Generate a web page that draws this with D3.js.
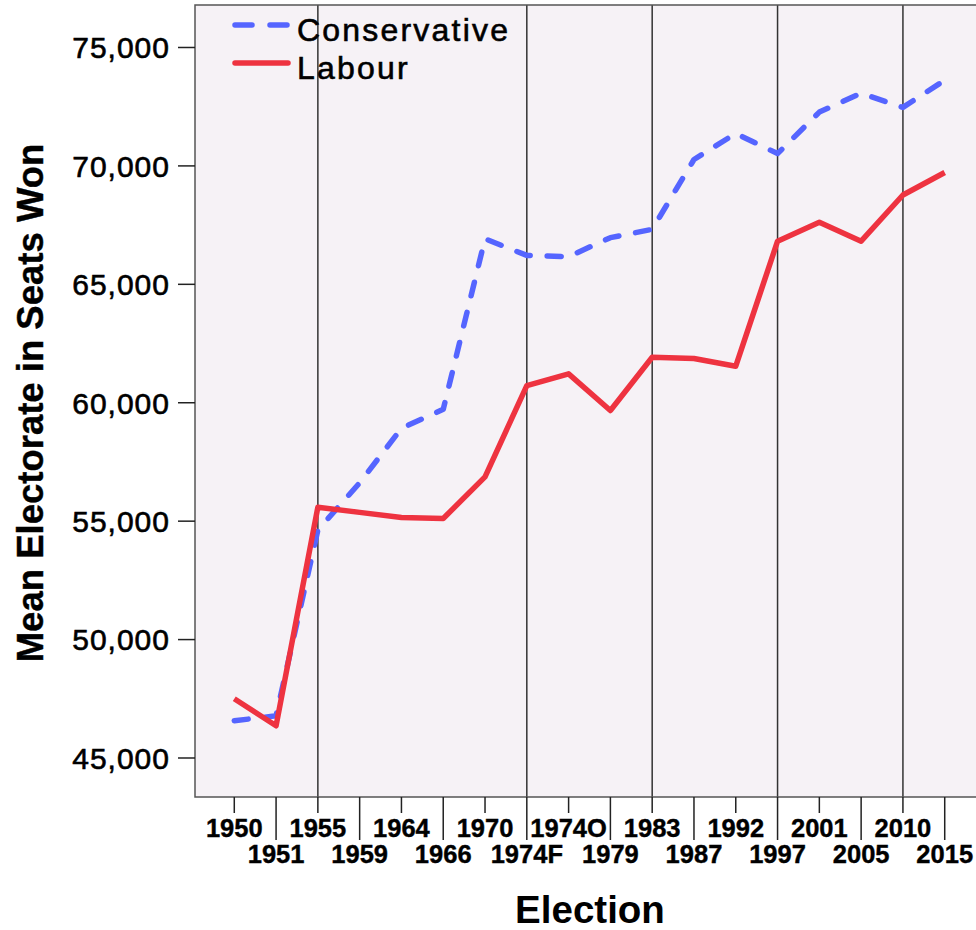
<!DOCTYPE html>
<html lang="en">
<head>
    <meta charset="UTF-8">
    <title>Mean Electorate in Seats Won</title>
    <script src="https://d3js.org/d3.v7.min.js"></script>
    <style>
        body {
            margin: 0;
            padding: 0;
            background: #ffffff;
            overflow: hidden;
        }
        text {
            font-family: "Liberation Sans", Arial, sans-serif;
            fill: #000;
        }
    </style>
</head>
<body>
    <svg id="chart"></svg>

    <script>
        // Data
        const elections = ["1950", "1951", "1955", "1959", "1964", "1966", "1970", "1974F", "1974O",
            "1979", "1983", "1987", "1992", "1997", "2001", "2005", "2010", "2015"];
        const conservative = [46550, 46760, 54600, 56600, 58900, 59700, 66900, 66200, 66150,
            66950, 67300, 70250, 71350, 70500, 72250, 73050, 72450, 73600];
        const labour = [47480, 46340, 55570, 55350, 55130, 55090, 56850, 60700, 61200,
            59650, 61900, 61850, 61520, 66800, 67600, 66800, 68750, 69700];
        const yTicks = [45000, 50000, 55000, 60000, 65000, 70000, 75000];
        const refLines = ["1955", "1974F", "1983", "1997", "2010"];

        const width = 976;
        const height = 930;

        const plot = { left: 195, right: 984, top: 5, bottom: 797 };

        const svg = d3.select("#chart")
            .attr("width", width)
            .attr("height", height);

        // Scales
        const x = d3.scalePoint()
            .domain(elections)
            .range([plot.left, plot.right])
            .padding(0.94);

        const y = d3.scaleLinear()
            .domain([43332, 76773])
            .range([plot.bottom, plot.top]);

        // Plot background
        svg.append("rect")
            .attr("x", plot.left)
            .attr("y", plot.top)
            .attr("width", plot.right - plot.left)
            .attr("height", plot.bottom - plot.top)
            .attr("fill", "#f6f2f6");

        // Reference lines
        svg.selectAll(".ref")
            .data(refLines)
            .enter()
            .append("line")
            .attr("class", "ref")
            .attr("x1", d => x(d))
            .attr("x2", d => x(d))
            .attr("y1", plot.top)
            .attr("y2", plot.bottom)
            .attr("stroke", "#333")
            .attr("stroke-width", 1.5);

        // Frame
        svg.append("rect")
            .attr("x", plot.left)
            .attr("y", plot.top)
            .attr("width", plot.right - plot.left)
            .attr("height", plot.bottom - plot.top)
            .attr("fill", "none")
            .attr("stroke", "#555")
            .attr("stroke-width", 1.5);

        // Y axis
        const yAxis = svg.append("g")
            .attr("transform", `translate(${plot.left},0)`)
            .call(d3.axisLeft(y)
                .tickValues(yTicks)
                .tickFormat(d3.format(","))
                .tickSize(17)
                .tickPadding(8));
        yAxis.select(".domain").remove();
        yAxis.selectAll(".tick line").attr("stroke", "#222").attr("stroke-width", 1.5);
        yAxis.selectAll(".tick text")
            .style("font-family", "'Liberation Sans', Arial, sans-serif")
            .style("font-size", "30px")
            .style("letter-spacing", "1px")
            .attr("stroke", "#000")
            .attr("stroke-width", 0.6)
            .attr("dy", "0.36em");

        // X axis: ticks alternate between short and long, labels staggered
        const xAxis = svg.append("g")
            .attr("transform", `translate(0,${plot.bottom})`);

        xAxis.selectAll(".xtick")
            .data(elections)
            .enter()
            .append("line")
            .attr("class", "xtick")
            .attr("x1", d => x(d))
            .attr("x2", d => x(d))
            .attr("y1", 0)
            .attr("y2", (d, i) => i % 2 === 0 ? 16 : 43)
            .attr("stroke", "#222")
            .attr("stroke-width", 1.5);

        xAxis.selectAll(".xlabel")
            .data(elections)
            .enter()
            .append("text")
            .attr("class", "xlabel")
            .attr("x", d => x(d))
            .attr("y", (d, i) => i % 2 === 0 ? 40 : 66)
            .attr("text-anchor", "middle")
            .style("font-size", "25.5px")
            .style("font-weight", "bold")
            .attr("stroke", "#000")
            .attr("stroke-width", 0.4)
            .text(d => d);

        // Axis titles
        svg.append("text")
            .attr("x", 590)
            .attr("y", 923)
            .attr("text-anchor", "middle")
            .style("font-size", "38.5px")
            .style("font-weight", "bold")
            .text("Election");

        svg.append("text")
            .attr("transform", "translate(43,403) rotate(-90)")
            .attr("text-anchor", "middle")
            .style("font-size", "36.5px")
            .style("font-weight", "bold")
            .attr("stroke", "#000")
            .attr("stroke-width", 0.4)
            .text("Mean Electorate in Seats Won");

        // Lines
        const line = d3.line()
            .x((d, i) => x(elections[i]))
            .y(d => y(d));

        svg.append("path")
            .datum(conservative)
            .attr("fill", "none")
            .attr("stroke", "#5565ff")
            .attr("stroke-width", 5.5)
            .attr("stroke-linecap", "round")
            .attr("stroke-linejoin", "round")
            .attr("stroke-dasharray", "14,17")
            .attr("d", line);

        svg.append("path")
            .datum(labour)
            .attr("fill", "none")
            .attr("stroke", "#ee3340")
            .attr("stroke-width", 5.5)
            .attr("stroke-linejoin", "round")
            .attr("d", line);

        // Legend
        const legend = svg.append("g");
        const items = [
            { name: "Conservative", color: "#5565ff", dash: "17,18", y: 25 },
            { name: "Labour", color: "#ee3340", dash: null, y: 63 }
        ];
        items.forEach(it => {
            legend.append("line")
                .attr("x1", 235)
                .attr("x2", 288)
                .attr("y1", it.y)
                .attr("y2", it.y)
                .attr("stroke", it.color)
                .attr("stroke-width", 5.5)
                .attr("stroke-linecap", "round")
                .attr("stroke-dasharray", it.dash);
            legend.append("text")
                .attr("x", 297)
                .attr("y", it.y + 16)
                .style("font-size", "32px")
                .style("letter-spacing", "2.2px")
                .attr("stroke", "#000")
                .attr("stroke-width", 0.6)
                .text(it.name);
        });
    </script>
</body>
</html>
